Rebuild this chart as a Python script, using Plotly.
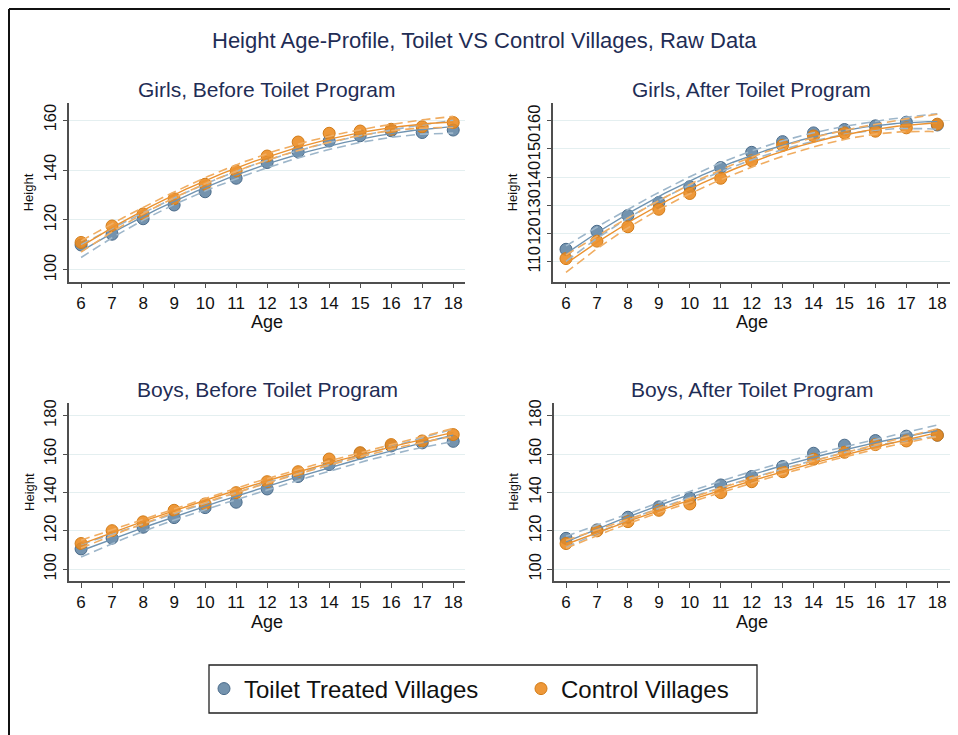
import numpy as np
import plotly.graph_objects as go

# ---------------- data ----------------
ages = [6, 7, 8, 9, 10, 11, 12, 13, 14, 15, 16, 17, 18]

girls_before_treated = [110.0, 114.3, 120.5, 126.0, 131.3, 136.7, 143.0, 147.3, 151.6, 153.7, 155.7, 155.0, 156.0]
girls_before_control = [111.0, 117.6, 122.4, 128.5, 134.3, 139.6, 145.6, 151.2, 154.7, 155.6, 156.3, 157.3, 159.0]
girls_after_treated = [114.4, 120.8, 126.4, 131.0, 136.6, 143.4, 148.8, 152.6, 155.7, 156.9, 158.2, 159.5, 158.5]
girls_after_control = [111.1, 117.3, 122.4, 128.6, 134.2, 139.6, 145.8, 151.3, 154.6, 155.7, 156.3, 157.5, 158.8]
boys_before_treated = [110.6, 116.2, 121.9, 126.9, 132.1, 134.9, 141.8, 148.3, 154.5, 160.4, 164.2, 165.8, 166.6]
boys_before_control = [113.4, 120.1, 124.7, 130.7, 134.0, 139.9, 145.6, 150.8, 157.4, 160.7, 164.9, 166.8, 170.1]
boys_after_treated = [116.1, 120.5, 127.1, 132.5, 137.0, 143.9, 148.3, 153.5, 160.4, 164.6, 167.0, 169.3, 169.8]
boys_after_control = [113.4, 120.0, 124.8, 130.7, 134.0, 139.9, 145.6, 150.8, 157.3, 160.9, 164.9, 166.8, 169.8]

# half-width of the 95% CI of the quadratic fit at mid age
ci_mid_treated = [1.5, 1.6, 1.9, 1.7]
ci_mid_control = [1.3, 1.8, 1.2, 1.2]

panel_titles = ["Girls, Before Toilet Program", "Girls, After Toilet Program",
                "Boys, Before Toilet Program", "Boys, After Toilet Program"]
treated_series = [girls_before_treated, girls_after_treated, boys_before_treated, boys_after_treated]
control_series = [girls_before_control, girls_after_control, boys_before_control, boys_after_control]
y_ticks = [[100, 120, 140, 160], [110, 120, 130, 140, 150, 160],
           [100, 120, 140, 160, 180], [100, 120, 140, 160, 180]]
y_ranges = [[95.3, 166.7], [102.9, 166.2], [93.9, 186.4], [93.9, 186.4]]

main_title = "Height Age-Profile, Toilet VS Control Villages, Raw Data"
legend_names = ["Toilet Treated Villages", "Control Villages"]

# ---------------- layout geometry (page pixels) ----------------
OFF = 8            # the page body has an 8px margin
W, H = 958 - OFF, 735 - OFF
boxes = [  # x0, x1, ytop, ybottom  (page pixels)
    (69.3, 465.0, 103.3, 281.7),
    (553.3, 950.0, 103.3, 281.7),
    (69.3, 465.0, 403.3, 581.0),
    (554.0, 950.0, 403.3, 581.0),
]
x_ranges = [[5.62, 18.38], [5.59, 18.41], [5.62, 18.38], [5.61, 18.41]]

FONT = "Liberation Sans, Arial, Helvetica, sans-serif"
NAVY = "#1f2d55"
AXIS = "#4f4f4f"
GRID = "#e4eff0"
BLUE_FILL = "rgba(92,128,160,0.85)"
BLUE_LINE = "#4a6b8a"
BLUE_FIT = "#6f93b1"
BLUE_CI = "#9db6ca"
OR_FILL = "rgba(236,138,30,0.88)"
OR_LINE = "#d27b16"
OR_FIT = "#eb9230"
OR_CI = "#f0ad62"


def px_x(p):
    return (p - OFF) / W


def px_y(p):
    return 1 - (p - OFF) / H


ages_arr = np.array(ages, dtype=float)
grid = np.linspace(ages[0], ages[-1], 121)
Xd = np.vstack([np.ones_like(ages_arr), ages_arr, ages_arr ** 2]).T
XtX_inv = np.linalg.inv(Xd.T @ Xd)


def lev(x):
    v = np.vstack([np.ones_like(x), x, x ** 2]).T
    return np.einsum("ij,jk,ik->i", v, XtX_inv, v)


lev_mid = lev(np.array([12.0]))[0]


def fit_ci(values, hw_mid):
    coef = np.polyfit(ages_arr, np.array(values), 2)
    fit = np.polyval(coef, grid)
    hw = hw_mid * np.sqrt(lev(grid) / lev_mid)
    return fit, fit - hw, fit + hw


fig = go.Figure()
annotations = []

for i in range(4):
    ax = "" if i == 0 else str(i + 1)
    xref, yref = "x" + ax, "y" + ax
    x0, x1, yt, yb = boxes[i]

    fig.add_trace(go.Scatter(x=ages, y=treated_series[i], mode="markers", xaxis=xref, yaxis=yref,
                             marker=dict(size=12, color=BLUE_FILL, line=dict(color=BLUE_LINE, width=1)),
                             showlegend=False, hoverinfo="skip"))
    fig.add_trace(go.Scatter(x=ages, y=control_series[i], mode="markers", xaxis=xref, yaxis=yref,
                             marker=dict(size=12, color=OR_FILL, line=dict(color=OR_LINE, width=1)),
                             showlegend=False, hoverinfo="skip"))
    for vals, hw, cfit, cci in [(treated_series[i], ci_mid_treated[i], BLUE_FIT, BLUE_CI),
                                (control_series[i], ci_mid_control[i], OR_FIT, OR_CI)]:
        f, lo, hi = fit_ci(vals, hw)
        for yy in (lo, hi):
            fig.add_trace(go.Scatter(x=grid, y=yy, mode="lines", xaxis=xref, yaxis=yref,
                                     line=dict(color=cci, width=1.6, dash="9px,5px"),
                                     showlegend=False, hoverinfo="skip"))
        fig.add_trace(go.Scatter(x=grid, y=f, mode="lines", xaxis=xref, yaxis=yref,
                                 line=dict(color=cfit, width=1.4),
                                 showlegend=False, hoverinfo="skip"))

    fig.layout["xaxis" + ax] = dict(
        domain=[px_x(x0), px_x(x1)], anchor=yref, range=x_ranges[i],
        tickmode="array", tickvals=ages, ticktext=[str(a) for a in ages],
        showline=True, linecolor=AXIS, linewidth=1.5, ticks="outside", ticklen=5,
        tickcolor=AXIS, tickwidth=1.3, showgrid=False, zeroline=False,
        tickfont=dict(family=FONT, size=17, color="#111111"),
    )
    fig.layout["yaxis" + ax] = dict(
        domain=[px_y(yb), px_y(yt)], anchor=xref, range=y_ranges[i],
        tickmode="array", tickvals=y_ticks[i], ticktext=[str(t) for t in y_ticks[i]],
        tickangle=-90, showline=True, linecolor=AXIS, linewidth=1.5, ticks="outside",
        ticklen=5, tickcolor=AXIS, tickwidth=1.3, showgrid=True, gridcolor=GRID,
        gridwidth=1, zeroline=False,
        tickfont=dict(family=FONT, size=16.5, color="#111111"),
    )

    cx = (x0 + x1) / 2
    annotations.append(dict(text=panel_titles[i], x=px_x(cx), y=px_y(yt - 14), xref="paper", yref="paper",
                            xanchor="center", yanchor="middle", showarrow=False,
                            font=dict(family=FONT, size=21, color=NAVY)))
    annotations.append(dict(text="Age", x=px_x(cx), y=px_y(yb + 40.5), xref="paper", yref="paper",
                            xanchor="center", yanchor="middle", showarrow=False,
                            font=dict(family=FONT, size=18, color="#111111")))
    annotations.append(dict(text="Height", x=px_x(x0 - 40.5), y=px_y((yt + yb) / 2), xref="paper",
                            yref="paper", xanchor="center", yanchor="middle", showarrow=False,
                            textangle=-90, font=dict(family=FONT, size=13, color="#111111")))

annotations.append(dict(text=main_title, x=px_x(484), y=px_y(40), xref="paper", yref="paper",
                        xanchor="center", yanchor="middle", showarrow=False,
                        font=dict(family=FONT, size=22, color=NAVY)))

# legend entries
fig.add_trace(go.Scatter(x=[None], y=[None], mode="markers", name=legend_names[0],
                         marker=dict(size=12, color=BLUE_FILL, line=dict(color=BLUE_LINE, width=1))))
fig.add_trace(go.Scatter(x=[None], y=[None], mode="markers", name=legend_names[1],
                         marker=dict(size=12, color=OR_FILL, line=dict(color=OR_LINE, width=1))))

shapes = [
    # frame lines of the picture
    dict(type="line", xref="paper", yref="paper", x0=px_x(9), x1=1.0, y0=px_y(9), y1=px_y(9),
         line=dict(color="#111111", width=2)),
    dict(type="line", xref="paper", yref="paper", x0=px_x(9), x1=px_x(9), y0=px_y(9), y1=0,
         line=dict(color="#111111", width=2)),
    # legend box
    dict(type="rect", xref="paper", yref="paper", x0=px_x(209), x1=px_x(757), y0=px_y(713), y1=px_y(665),
         line=dict(color="#222222", width=1.3), fillcolor="rgba(0,0,0,0)"),
]

fig.update_layout(
    width=W, height=H,
    margin=dict(l=0, r=0, t=0, b=0, autoexpand=False),
    paper_bgcolor="white", plot_bgcolor="white",
    annotations=annotations, shapes=shapes,
    legend=dict(orientation="h", x=px_x(204), y=px_y(689), xanchor="left", yanchor="middle",
                borderwidth=0, bgcolor="rgba(0,0,0,0)",
                font=dict(family=FONT, size=24, color="#111111"),
                entrywidth=272, entrywidthmode="pixels", itemclick=False),
    showlegend=True,
)

fig.write_html("out.html")
